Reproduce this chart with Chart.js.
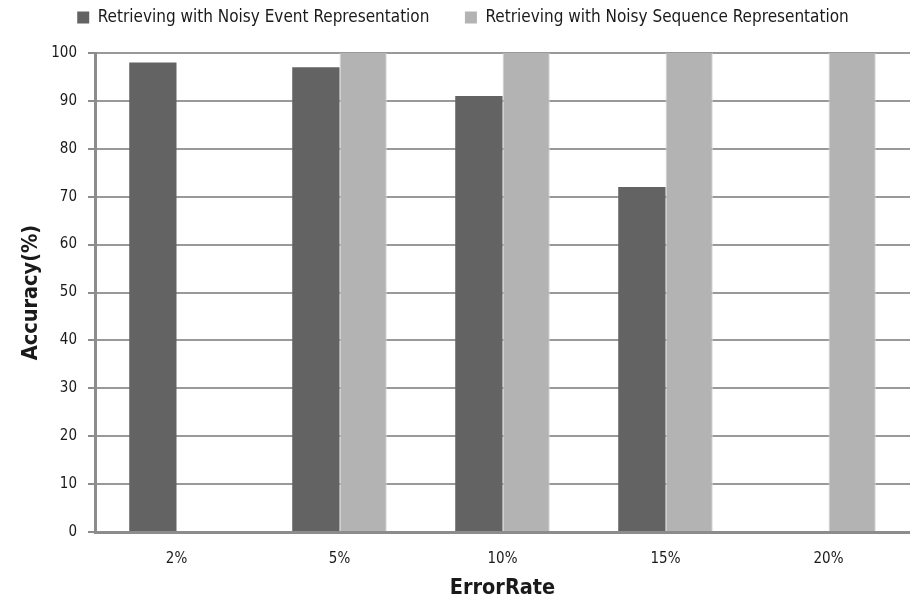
<!DOCTYPE html>
<html>
<head>
<meta charset="utf-8">
<script src="https://cdn.jsdelivr.net/npm/chart.js@4"></script>
<style>
  html, body { margin: 0; padding: 0; background: #ffffff; }
  #wrap { width: 910px; height: 604px; position: relative; }
</style>
</head>
<body>
<div id="wrap"><canvas id="chart" width="910" height="604"></canvas></div>
<script>
// Retrieval accuracy at each injected error rate
const errorRates = ['2%', '5%', '10%', '15%', '20%'];
const noisyEventAccuracy = [98, 97, 91, 72, null];
const noisySequenceAccuracy = [null, 100, 100, 100, 100];
const accuracyTicks = [0, 10, 20, 30, 40, 50, 60, 70, 80, 90, 100];

const FONT = "'Liberation Sans Narrow', 'DejaVu Sans Condensed', 'Open Sans', sans-serif";
const INK = '#1a1a1a';

// Legend band: reserve a fixed strip above the plot and nudge the row into place
const legendBand = {
  id: 'legendBand',
  beforeInit(chart) {
    const lg = chart.legend;
    if (!lg) return;
    const fit = lg.fit.bind(lg);
    lg.fit = function () { fit(); this.height = 53; };
  },
  afterLayout(chart) {
    const lg = chart.legend;
    if (!lg) return;
    lg.top = -26.5;
    lg.left += 8;
    lg.right += 8;
  }
};

new Chart(document.getElementById('chart'), {
  type: 'bar',
  data: {
    labels: errorRates,
    datasets: [
      {
        label: 'Retrieving with Noisy Event Representation',
        data: noisyEventAccuracy,
        backgroundColor: '#636363',
        borderWidth: 0
      },
      {
        label: 'Retrieving with Noisy Sequence Representation',
        data: noisySequenceAccuracy,
        backgroundColor: '#b3b3b3',
        borderColor: '#d9d9d9',
        borderWidth: { left: 1, right: 1, top: 0, bottom: 0 }
      }
    ]
  },
  options: {
    responsive: false,
    animation: false,
    layout: { padding: { left: 0, right: 0, top: 0, bottom: 0 } },
    datasets: {
      bar: { categoryPercentage: 0.58, barPercentage: 1.0 }
    },
    plugins: {
      legend: {
        position: 'top',
        align: 'center',
        labels: {
          boxWidth: 12,
          boxHeight: 12,
          padding: 35.5,
          color: INK,
          font: { family: FONT, size: 17 },
          generateLabels(chart) {
            return chart.data.datasets.map((ds, i) => ({
              text: ds.label,
              fillStyle: ds.backgroundColor,
              strokeStyle: ds.backgroundColor,
              lineWidth: 0,
              hidden: false,
              datasetIndex: i,
              fontColor: INK
            }));
          }
        }
      },
      tooltip: { enabled: false }
    },
    scales: {
      x: {
        afterFit(scale) { scale.height = 72; },
        grid: { display: false, drawTicks: false },
        border: { display: true, color: '#8c8c8c', width: 3 },
        ticks: { color: INK, font: { family: FONT, size: 15 }, padding: 18 },
        title: {
          display: true,
          text: 'ErrorRate',
          color: INK,
          font: { family: FONT, size: 21.5, weight: 'bold' },
          padding: { top: 0, bottom: 3 }
        }
      },
      y: {
        min: 0,
        max: 100,
        afterBuildTicks(scale) { scale.ticks = accuracyTicks.map(v => ({ value: v })); },
        afterFit(scale) { scale.width = 95; },
        grid: { color: '#999999', lineWidth: 2, tickLength: 7, drawTicks: true, tickColor: '#8c8c8c' },
        border: { display: true, color: '#8c8c8c', width: 3 },
        ticks: { color: INK, font: { family: FONT, size: 15 }, padding: 11 },
        title: {
          display: true,
          text: 'Accuracy(%)',
          color: INK,
          font: { family: FONT, size: 21.5, weight: 'bold' },
          padding: { top: 19, bottom: 0 }
        }
      }
    }
  },
  plugins: [legendBand]
});
</script>
</body>
</html>
